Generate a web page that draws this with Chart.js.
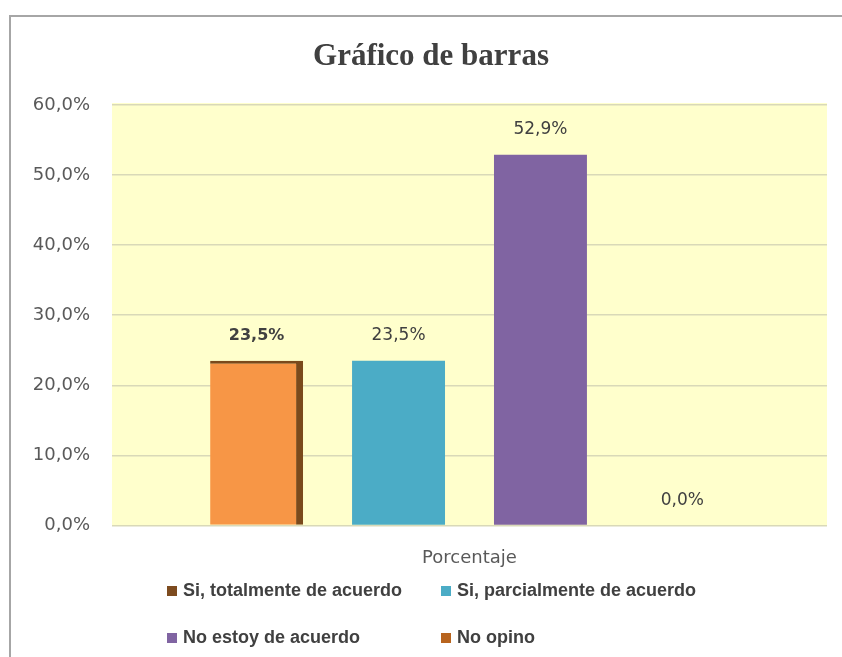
<!DOCTYPE html>
<html>
<head>
<meta charset="utf-8">
<script src="https://cdn.jsdelivr.net/npm/chart.js@4.4.1/dist/chart.umd.min.js"></script>
<style>
    html, body { margin: 0; padding: 0; background: #fff; overflow: hidden; }
    #wrap { width: 842px; height: 657px; }
</style>
</head>
<body>
<div id="wrap"><canvas id="myChart" width="842" height="657"></canvas></div>
<script>
// data
let chartTitle = "Gráfico de barras";
let categories = ["Porcentaje"];
let seriesNames = ["Si, totalmente de acuerdo", "Si, parcialmente de acuerdo", "No estoy de acuerdo", "No opino"];
let seriesValues = [23.5, 23.5, 52.9, 0.0];
let yTicks = [0, 10, 20, 30, 40, 50, 60];

// styles
let barColors = ["#f79646", "#4bacc6", "#8064a2", "#c0681a"];
let legendColors = ["#7d4b1f", "#4bacc6", "#8064a2", "#b8641e"];
let textColor = "#404040";

function pct(v) {
    return v.toFixed(1).replace(".", ",") + "%";
}

// frame + yellow plot background
let backgroundPlugin = {
    id: "bg",
    beforeDraw: function(chart) {
        let ctx = chart.ctx;
        let a = chart.chartArea;
        ctx.save();
        ctx.fillStyle = "#a6a6a6";
        ctx.fillRect(9, 15, 2, 700);
        ctx.fillRect(9, 15, 900, 2);
        ctx.fillStyle = "#ffffcc";
        ctx.fillRect(a.left, a.top - 2, a.right - a.left, a.bottom - a.top + 2);
        ctx.restore();
    }
};

// value labels above the bars
let labelPlugin = {
    id: "valueLabels",
    afterDatasetsDraw: function(chart) {
        let ctx = chart.ctx;
        ctx.save();
        ctx.textAlign = "center";
        ctx.textBaseline = "middle";
        ctx.fillStyle = textColor;
        chart.data.datasets.forEach(function(ds, i) {
            let bar = chart.getDatasetMeta(i).data[0];
            ctx.font = (i === 0 ? "bold 16px" : "17px") + " 'DejaVu Sans'";
            ctx.fillText(pct(ds.data[0]), bar.x, bar.y - 25);
        });
        ctx.restore();
    }
};

// title (sits a bit right of centre in the original) and two-column legend
let textPlugin = {
    id: "titleLegend",
    afterDraw: function(chart) {
        let ctx = chart.ctx;
        ctx.save();
        ctx.fillStyle = textColor;
        ctx.font = "bold 31px 'Liberation Serif'";
        ctx.textAlign = "center";
        ctx.textBaseline = "middle";
        ctx.fillText(chartTitle, 431, 57);

        let colX = [167, 441];
        let rowY = [591, 638];
        ctx.font = "bold 18px 'Liberation Sans'";
        ctx.textAlign = "left";
        chart.data.datasets.forEach(function(ds, i) {
            let x = colX[i % 2];
            let y = rowY[Math.floor(i / 2)];
            ctx.fillStyle = legendColors[i];
            ctx.fillRect(x, y - 5, 10, 10);
            ctx.fillStyle = textColor;
            ctx.fillText(ds.label, x + 16, y);
        });
        ctx.restore();
    }
};

let datasets = seriesNames.map(function(name, i) {
    let ds = {
        label: name,
        data: [seriesValues[i]],
        backgroundColor: barColors[i],
        barPercentage: 0.655,
        categoryPercentage: 0.794
    };
    if (i === 0) {
        // dark shaded edge on the first bar
        ds.borderColor = "#7a4a1c";
        ds.borderWidth = {top: 3, right: 7, bottom: 0, left: 0};
        ds.borderSkipped = false;
    }
    return ds;
});

let chart = new Chart("myChart", {
    type: "bar",
    data: {
        labels: categories,
        datasets: datasets
    },
    options: {
        responsive: false,
        animation: false,
        layout: {padding: {left: 0, right: 15, top: 105, bottom: 66}},
        plugins: {
            legend: {display: false},
            tooltip: {enabled: false},
            title: {display: false}
        },
        scales: {
            x: {
                grid: {display: false, drawTicks: false},
                border: {display: false},
                ticks: {
                    color: "#595959",
                    padding: 22,
                    font: {family: "'DejaVu Sans'", size: 18}
                }
            },
            y: {
                min: yTicks[0],
                max: yTicks[yTicks.length - 1],
                afterBuildTicks: function(scale) {
                    scale.ticks = yTicks.map(function(v) { return {value: v}; });
                },
                afterFit: function(scale) {
                    scale.width = 112;
                },
                grid: {color: "#d9d9b8", lineWidth: 1.5, drawTicks: false},
                border: {display: false},
                ticks: {
                    color: "#595959",
                    padding: 22,
                    font: {family: "'DejaVu Sans'", size: 18},
                    callback: function(v) { return pct(v); }
                }
            }
        }
    },
    plugins: [backgroundPlugin, labelPlugin, textPlugin]
});
</script>
</body>
</html>
